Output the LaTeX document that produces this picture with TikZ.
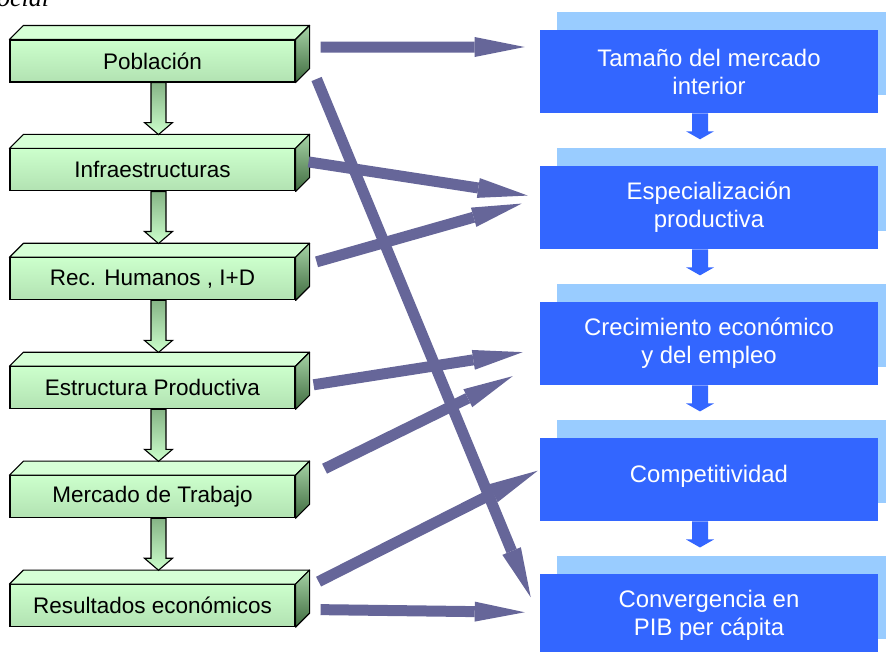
\documentclass[tikz,border=0pt]{standalone}
\usepackage{fontspec}
\setmainfont{Liberation Sans}
\newfontfamily\titlefont{Liberation Serif}
\usepackage{tikz}
\usetikzlibrary{positioning, arrows.meta, shadows}
\definecolor{gfront}{HTML}{CCFFCC}
\definecolor{gfrontdark}{HTML}{B2E2B2}
\definecolor{gtop}{HTML}{D6FFD6}
\definecolor{gside}{HTML}{A6D3A6}
\definecolor{gsidedark}{HTML}{3F6B3F}
\definecolor{garrowtop}{HTML}{86B486}
\definecolor{bfront}{HTML}{3366FF}
\definecolor{bback}{HTML}{99CCFF}
\definecolor{linkcol}{HTML}{666699}
\tikzset{
    gblock/.style={
        draw, line width=0.8pt,
        top color=gfront, bottom color=gfrontdark,
        minimum width=7.125cm,
        minimum height=1.05cm,
        inner sep=0pt,
        font=\fontsize{16}{19}\selectfont
    },
    bblock/.style={
        fill=bfront, text=white,
        general shadow={fill=bback, shadow xshift=0.425cm, shadow yshift=0.45cm},
        minimum width=8.45cm,
        minimum height=2.075cm,
        align=center, inner sep=0pt,
        font=\fontsize{17}{19.9}\selectfont
    },
    gface/.style={draw, line width=0.8pt, line join=round},
    garrow/.style={draw, line width=0.8pt, line join=miter, top color=garrowtop, bottom color=gfront},
    every node/.style={node distance=1.645cm},
    linkarrow/.style={-{Triangle[length=1.25cm, width=0.5cm, line width'=0pt]}, draw=linkcol, line width=0.275cm}
}
\begin{document}
\begin{tikzpicture}
                        \useasboundingbox (0,0) rectangle (22.15,-16.275);

                        % Title remnant
                        \node[anchor=base west, inner sep=0pt,
                            font=\titlefont\itshape\fontsize{18.5}{20}\selectfont] (title) at (-0.08,-0.15) {ocial};

                        % Factor blocks
                        \node[gblock] (pob) at (3.8125,-1.525) {Población};
                        \node[gblock, below = of pob] (inf) {Infraestructuras};
                        \node[gblock, below = of inf] (rec) {Rec. Humanos , I+D};
                        \node[gblock, below = of rec] (est) {Estructura Productiva};
                        \node[gblock, below = of est] (mer) {Mercado de Trabajo};
                        \node[gblock, below = of mer] (res) {Resultados económicos};

                        % 3D faces
                        \foreach \n in {pob,inf,rec,est,mer,res} {
                            \draw[gface, fill=gtop] (\n.north west) -- ++(0.35,0.35)
                                -- ([shift={(0.35,0.35)}]\n.north east) -- (\n.north east) -- cycle;
                            \draw[gface, top color=gside, middle color=gside, bottom color=gsidedark]
                                (\n.north east) -- ++(0.35,0.35)
                                -- ([shift={(0.35,0.35)}]\n.south east) -- (\n.south east) -- cycle;
                        }

                        % Block arrows between factors
                        \foreach \a in {pob,inf,rec,est,mer} {
                            \draw[garrow] ([xshift=-0.0375cm]\a.south) -- ++(0,-1.0) -- ++(-0.1625,0)
                                -- ++(0.35,-0.3) -- ++(0.35,0.3) -- ++(-0.1625,0) -- ++(0,1.0) -- cycle;
                        }

                        % Effect blocks
                        \node[bblock] (tam) at (17.725,-1.7875) {Tamaño del mercado\\interior};
                        \node[bblock, below = 1.3125cm of tam] (esp) {Especialización\\productiva};
                        \node[bblock, below = 1.3125cm of esp] (cre) {Crecimiento económico\\y del empleo};
                        \node[bblock, below = 1.3125cm of cre] (com) {\raisebox{0.3cm}{Competitividad}};
                        \node[bblock, below = 1.3125cm of com] (con) {Convergencia en\\PIB per cápita};

                        % Block arrows between effects
                        \foreach \a in {tam,esp,cre,com} {
                            \fill[bfront] ([xshift=-0.425cm]\a.south) -- ++(0,-0.45) -- ++(-0.15,0)
                                -- ++(0.35,-0.2) -- ++(0.35,0.2) -- ++(-0.15,0) -- ++(0,0.45) -- cycle;
                        }

                        % Lines
                        \draw[linkarrow] ([shift={(0.625,0.35)}]pob.east) -- ([shift={(-0.375,0.6125)}]tam.west);
                        \draw[linkarrow] ([shift={(0.525,-0.45)}]pob.east) -- ([shift={(-0.225,0.4625)}]con.west);
                        \draw[linkarrow] ([shift={(0.325,0.2)}]inf.east) -- ([shift={(-0.3,0.3)}]esp.west);
                        \draw[linkarrow] ([shift={(0.525,0.425)}]rec.east) -- ([shift={(-0.45,0.1)}]esp.west);
                        \draw[linkarrow] ([shift={(0.45,0.075)}]est.east) -- ([shift={(-0.425,-0.2125)}]cre.west);
                        \draw[linkarrow] ([shift={(0.725,0.7)}]mer.east) -- ([shift={(-0.675,-0.8125)}]cre.west);
                        \draw[linkarrow] ([shift={(0.575,0.6)}]res.east) -- ([shift={(-0.05,0.225)}]com.west);
                        \draw[linkarrow] ([shift={(0.625,-0.1)}]res.east) -- ([shift={(-0.375,0.0875)}]con.west);

\end{tikzpicture}
\end{document}
